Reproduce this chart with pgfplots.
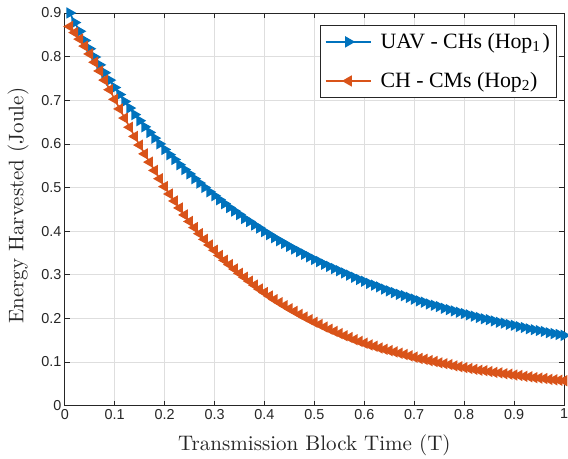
\documentclass[border=0pt]{standalone}
\usepackage{fontspec}
\newfontfamily\legfont{Liberation Serif}
\newfontfamily\tickfont{Liberation Sans}
\newfontfamily\cmfont{lmroman10-regular}[Extension=.otf]
\usepackage{pgfplots}
\usepackage{pgfplotstable}
\pgfplotsset{compat=1.18}
\definecolor{mblue}{rgb}{0,0.447,0.741}
\definecolor{morange}{rgb}{0.85,0.325,0.098}
\definecolor{axgray}{rgb}{0.15,0.15,0.15}
\pgfplotstableread{
x b o
0.01 0.900 0.869
0.02 0.878 0.855
0.03 0.858 0.840
0.04 0.837 0.824
0.05 0.818 0.806
0.06 0.799 0.787
0.07 0.781 0.767
0.08 0.763 0.746
0.09 0.746 0.724
0.10 0.729 0.702
0.11 0.713 0.680
0.12 0.697 0.659
0.13 0.682 0.638
0.14 0.667 0.617
0.15 0.653 0.597
0.16 0.639 0.577
0.17 0.626 0.558
0.18 0.613 0.539
0.19 0.600 0.520
0.20 0.587 0.502
0.21 0.575 0.485
0.22 0.564 0.469
0.23 0.552 0.453
0.24 0.541 0.437
0.25 0.531 0.422
0.26 0.520 0.408
0.27 0.510 0.394
0.28 0.500 0.381
0.29 0.490 0.368
0.30 0.481 0.356
0.31 0.472 0.344
0.32 0.463 0.333
0.33 0.454 0.323
0.34 0.446 0.313
0.35 0.438 0.303
0.36 0.429 0.294
0.37 0.422 0.285
0.38 0.414 0.276
0.39 0.407 0.267
0.40 0.399 0.259
0.41 0.392 0.251
0.42 0.385 0.243
0.43 0.378 0.236
0.44 0.372 0.229
0.45 0.365 0.222
0.46 0.359 0.216
0.47 0.353 0.209
0.48 0.347 0.203
0.49 0.341 0.197
0.50 0.335 0.191
0.51 0.330 0.186
0.52 0.324 0.180
0.53 0.319 0.175
0.54 0.314 0.170
0.55 0.309 0.165
0.56 0.304 0.160
0.57 0.299 0.156
0.58 0.294 0.151
0.59 0.289 0.147
0.60 0.285 0.143
0.61 0.280 0.139
0.62 0.276 0.136
0.63 0.272 0.132
0.64 0.267 0.129
0.65 0.263 0.126
0.66 0.259 0.123
0.67 0.255 0.120
0.68 0.252 0.117
0.69 0.248 0.114
0.70 0.244 0.111
0.71 0.240 0.108
0.72 0.237 0.106
0.73 0.233 0.103
0.74 0.230 0.101
0.75 0.227 0.098
0.76 0.223 0.096
0.77 0.220 0.094
0.78 0.217 0.091
0.79 0.214 0.089
0.80 0.211 0.087
0.81 0.208 0.085
0.82 0.205 0.083
0.83 0.202 0.081
0.84 0.199 0.080
0.85 0.197 0.078
0.86 0.194 0.076
0.87 0.191 0.075
0.88 0.189 0.073
0.89 0.186 0.072
0.90 0.184 0.070
0.91 0.181 0.069
0.92 0.179 0.067
0.93 0.176 0.066
0.94 0.174 0.064
0.95 0.172 0.063
0.96 0.170 0.062
0.97 0.167 0.060
0.98 0.165 0.059
0.99 0.163 0.058
1.00 0.161 0.057
}\datatable
\begin{document}
\begin{tikzpicture}
\begin{axis}[
  width=501bp, height=394bp, scale only axis,
  xmin=0, xmax=1, ymin=0, ymax=0.9,
  xtick={0,0.1,0.2,0.3,0.4,0.5,0.6,0.7,0.8,0.9,1},
  ytick={0,0.1,0.2,0.3,0.4,0.5,0.6,0.7,0.8,0.9},
  /pgf/number format/assume math mode=true,
  tick label style={font=\tickfont\fontsize{14.5}{16}\selectfont, text=axgray},
  tick align=inside,
  major tick length=5bp,
  tick style={axgray, line width=0.6bp},
  axis line style={axgray, line width=0.6bp},
  grid=major,
  major grid style={draw=black!13, line width=0.6bp},
  xlabel={Transmission Block Time (T)},
  ylabel={Energy Harvested (Joule)},
  label style={font=\cmfont\fontsize{21.2}{25}\selectfont, text=axgray},
  xlabel style={at={([yshift=-45bp]axis description cs:0.5,0)}, anchor=base},
  ylabel style={at={([xshift=-41.5bp]axis description cs:0,0.509)}, anchor=base},
  legend style={at={(0.984,0.9683)}, anchor=north east, draw=axgray,
    font=\legfont\fontsize{22}{26}\selectfont, inner xsep=4bp, inner ysep=6bp,
    nodes={inner sep=2bp}, column sep=6bp,
    row sep=18.5bp, cells={anchor=west}},
  legend image code/.code={%
    \draw[#1, line width=2.3bp, mark=none] (0bp,0bp) -- (46bp,0bp);
    \draw[mark repeat=2,mark phase=2,#1,draw=none] plot coordinates {(0bp,0bp) (23bp,0bp) (46bp,0bp)};},
]
\addplot[mblue, line width=1.6bp, mark=triangle*, mark size=5bp, mark options={rotate=-90, solid, draw=mblue}] table[x=x, y=b] {\datatable};
\addlegendentry{UAV - CHs (Hop\textsubscript{1}\hspace{2bp})}
\addplot[morange, line width=1.6bp, mark=triangle*, mark size=5bp, mark options={rotate=90, solid, draw=morange}] table[x=x, y=o] {\datatable};
\addlegendentry{CH - CMs (Hop\textsubscript{2})}
\end{axis}
\pgfresetboundingbox
\path[use as bounding box] ([xshift=-65bp,yshift=-53bp]current axis.south west) rectangle ([xshift=4bp,yshift=13bp]current axis.north east);
\end{tikzpicture}
\end{document}
